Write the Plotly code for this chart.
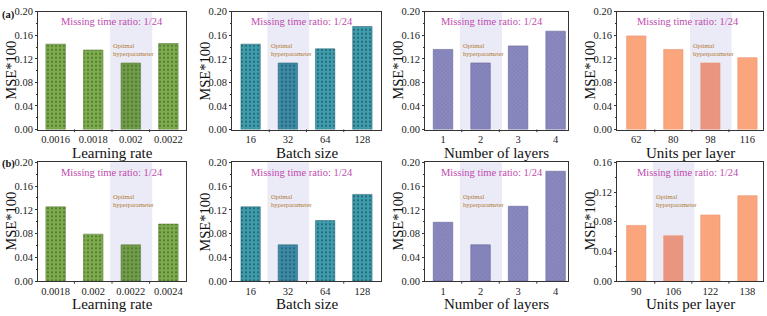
import plotly.graph_objects as go

# ---------------- data ----------------
lr_a_cats = ["0.0016", "0.0018", "0.002", "0.0022"]
lr_a_vals = [0.145, 0.135, 0.113, 0.146]
bs_a_cats = ["16", "32", "64", "128"]
bs_a_vals = [0.145, 0.113, 0.137, 0.175]
nl_a_cats = ["1", "2", "3", "4"]
nl_a_vals = [0.136, 0.113, 0.142, 0.167]
up_a_cats = ["62", "80", "98", "116"]
up_a_vals = [0.159, 0.136, 0.113, 0.122]

lr_b_cats = ["0.0018", "0.002", "0.0022", "0.0024"]
lr_b_vals = [0.125, 0.079, 0.061, 0.096]
bs_b_cats = ["16", "32", "64", "128"]
bs_b_vals = [0.125, 0.061, 0.102, 0.146]
nl_b_cats = ["1", "2", "3", "4"]
nl_b_vals = [0.099, 0.061, 0.126, 0.185]
up_b_cats = ["90", "106", "122", "138"]
up_b_vals = [0.075, 0.061, 0.089, 0.115]

x_titles = ["Learning rate", "Batch size", "Number of layers", "Units per layer"]
opt_idx_a = [2, 1, 1, 2]
opt_idx_b = [2, 1, 1, 1]
ymax_a = [0.2, 0.2, 0.2, 0.2]
ymax_b = [0.2, 0.2, 0.2, 0.16]
subtitle = "Missing time ratio: 1/24"
opt_text = "Optimal<br>hyperparameter"

# ---------------- styles ----------------
W, H = 767, 316
FONT = "Liberation Serif, Times New Roman, serif"
col_x = [(38, 186), (232, 381), (425, 568), (617, 763)]
col_range = [(-0.47, 3.47), (-0.5, 3.5), (-0.48, 3.33), (-0.52, 3.42)]
col_sub_cx = [112, 302, 492, 687.5]
row_y = [(7, 129), (163, 286)]

styles = [
    dict(bg="#7EAB4C", opt="#719D48", fg="#4A732F", line="#5E7F44", shape=".", size=4, sol=0.22),
    dict(bg="#3E9CAD", opt="#3C89A8", fg="#21606C", line="#356F7C", shape=".", size=4, sol=0.22),
    dict(bg="#8A8AC0", opt="#8787BE", fg="#7474A9", line="#66669A", shape="x", size=3, sol=0.22),
    dict(bg="#FBA57D", opt="#EA957F", fg=None, line="#E8946E", shape="", size=4, sol=0.3),
]

panels = [
    (lr_a_cats, lr_a_vals), (bs_a_cats, bs_a_vals), (nl_a_cats, nl_a_vals), (up_a_cats, up_a_vals),
    (lr_b_cats, lr_b_vals), (bs_b_cats, bs_b_vals), (nl_b_cats, nl_b_vals), (up_b_cats, up_b_vals),
]

fig = go.Figure()
shapes = []
annotations = []

for k, (cats, vals) in enumerate(panels):
    r, c = divmod(k, 4)
    n = k + 1
    xa = "x" if n == 1 else f"x{n}"
    ya = "y" if n == 1 else f"y{n}"
    st = styles[c]
    opt = (opt_idx_a if r == 0 else opt_idx_b)[c]
    ymax = (ymax_a if r == 0 else ymax_b)[c]
    for i, v in enumerate(vals):
        col = st["opt"] if i == opt else st["bg"]
        marker = dict(color=col, line=dict(color=st["line"], width=0.6))
        if st["shape"]:
            marker["pattern"] = dict(shape=st["shape"], size=st["size"], solidity=st["sol"],
                                     fgcolor=st["fg"], bgcolor=col, fgopacity=1,
                                     fillmode="replace")
        fig.add_trace(go.Bar(
            x=[i], y=[v], xaxis=xa, yaxis=ya, width=0.52,
            marker=marker, showlegend=False, hoverinfo="skip",
        ))
    x0, x1 = col_x[c]
    y0, y1 = row_y[r]
    dom_x = [x0 / W, x1 / W]
    dom_y = [1 - y1 / H, 1 - y0 / H]
    lay_x = "xaxis" if n == 1 else f"xaxis{n}"
    lay_y = "yaxis" if n == 1 else f"yaxis{n}"
    fig.layout[lay_x] = dict(
        domain=dom_x, anchor=ya, range=list(col_range[c]),
        tickmode="array", tickvals=list(range(len(cats))), ticktext=cats,
        ticks="", showline=True, mirror=True, linecolor="#333", linewidth=1,
        showgrid=False, zeroline=False, tickfont=dict(family=FONT, size=10.5, color="#222"),
        fixedrange=True,
    )
    fig.layout[lay_y] = dict(
        domain=dom_y, anchor=xa, range=[0, ymax], dtick=0.04, tickformat=".2f",
        ticks="outside", ticklen=2, tickwidth=1, tickcolor="#333",
        minor=dict(ticks="outside", ticklen=1.5, dtick=0.02, tickcolor="#333"),
        showline=True, mirror=True, linecolor="#333", linewidth=1,
        showgrid=False, zeroline=False, tickfont=dict(family=FONT, size=10.5, color="#222"),
        fixedrange=True,
    )
    # optimal band
    bl, br = opt - 0.55, opt + 0.57
    shapes.append(dict(type="rect", xref=xa, yref=f"{ya} domain", x0=bl, x1=br, y0=0, y1=1,
                       fillcolor="#EBEAF7", line=dict(width=0), layer="below"))
    # boundary tick marks on x axis
    for b in [0.5, 1.5, 2.5]:
        shapes.append(dict(type="line", xref=xa, yref=f"{ya} domain", x0=b, x1=b, y0=0, y1=-0.022,
                           line=dict(color="#333", width=1)))
    annotations.append(dict(text=subtitle, xref="paper", yref=f"{ya} domain",
                            x=col_sub_cx[c] / W, y=0.918, showarrow=False, xanchor="center",
                            yanchor="middle", font=dict(family=FONT, size=10.5, color="#C04BAE")))
    annotations.append(dict(text=opt_text, xref=xa, yref=f"{ya} domain",
                            x=bl + 0.03, y=0.68, showarrow=False, xanchor="left", yanchor="middle",
                            align="left", font=dict(family=FONT, size=6.5, color="#B07A30")))
    # axis titles
    annotations.append(dict(text=x_titles[c], xref=f"{xa} domain", yref="paper",
                            x=0.5, y=1 - (y1 + 24) / H, showarrow=False, xanchor="center",
                            yanchor="middle", font=dict(family=FONT, size=15, color="#111")))
    annotations.append(dict(text="MSE*100", xref="paper", yref=f"{ya} domain",
                            x=(x0 - 27) / W, y=0.5, textangle=-90, showarrow=False,
                            xanchor="center", yanchor="middle",
                            font=dict(family=FONT, size=14.5, color="#111")))

annotations.append(dict(text="<b>(a)</b>", xref="paper", yref="paper", x=0, y=1 - 10 / H,
                        showarrow=False, xanchor="left", yanchor="middle",
                        font=dict(family=FONT, size=10.5, color="#111")))
annotations.append(dict(text="<b>(b)</b>", xref="paper", yref="paper", x=0, y=1 - 165 / H,
                        showarrow=False, xanchor="left", yanchor="middle",
                        font=dict(family=FONT, size=10.5, color="#111")))

fig.update_layout(
    width=W, height=H, margin=dict(l=0, r=0, t=0, b=0),
    paper_bgcolor="white", plot_bgcolor="white", barmode="overlay",
    shapes=shapes, annotations=annotations,
    font=dict(family=FONT),
)
fig.write_html("out.html", config={"displayModeBar": False})
